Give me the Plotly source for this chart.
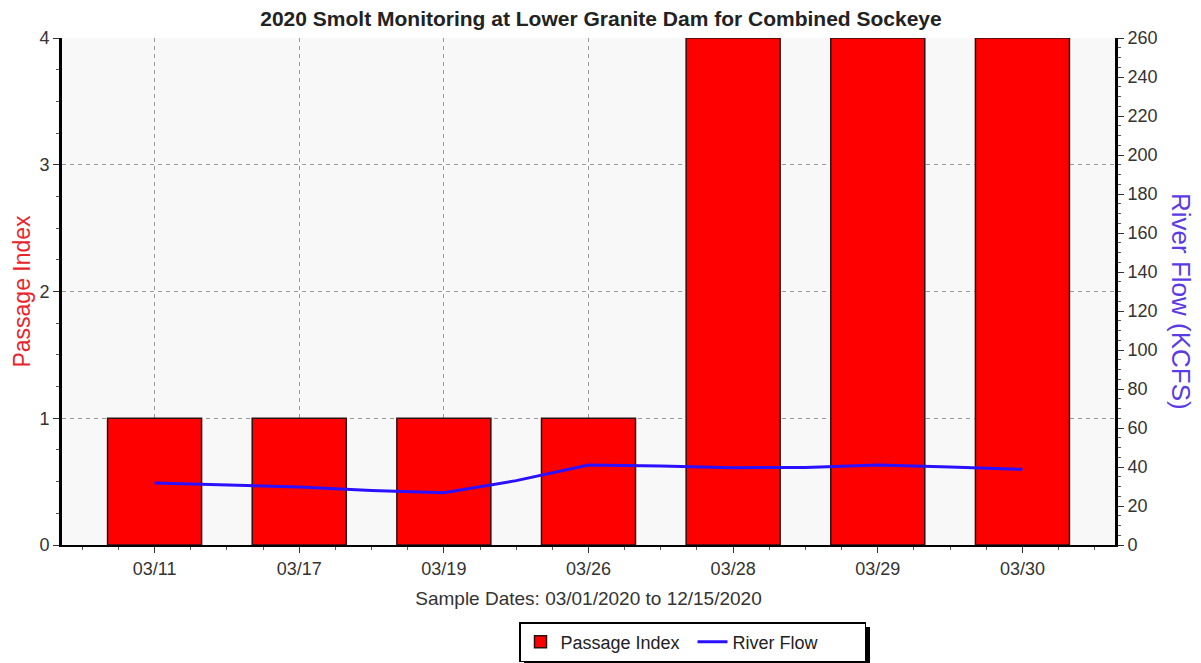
import plotly.graph_objects as go

# ---- data ----
categories = ["03/11", "03/17", "03/19", "03/26", "03/28", "03/29", "03/30"]
passage_index = [1, 1, 1, 1, 4, 4, 4]
# river flow sampled at category positions and midpoints (category index units)
flow_pos = [0, 0.5, 1, 1.5, 2, 2.5, 3, 3.5, 4, 4.5, 5, 5.5, 6]
river_flow = [31.8, 30.8, 29.8, 28.0, 26.8, 33.0, 41.0, 40.5, 39.6, 39.8, 41.0, 40.0, 38.8]

left_ticks = [0, 1, 2, 3, 4]
right_ticks = list(range(0, 261, 20))

# the page body has an 8px margin, so the figure starts at (8, 8) on screen
OFF = 8
W, H = 1201 - OFF, 663 - OFF
PLOT_L, PLOT_R, PLOT_T, PLOT_B = 62, 1115, 38, 545  # screen pixels
ML, MT = PLOT_L - OFF, PLOT_T - OFF
MR, MB = W - (PLOT_R - OFF), H - (PLOT_B - OFF)
PW, PH = W - ML - MR, H - MT - MB


def px_x(px):
    return (px - PLOT_L) / PW


def px_y(py):
    return (PLOT_B - py) / PH


FONT = "Liberation Sans, Arial, sans-serif"
GRID = "#9a9a9a"
idx = list(range(len(categories)))

fig = go.Figure()
fig.add_trace(go.Bar(
    x=idx, y=passage_index, name="Passage Index",
    width=0.65,
    marker=dict(color="#ff0000", line=dict(color="#2b1212", width=1.5)),
    yaxis="y",
))
fig.add_trace(go.Scatter(
    x=flow_pos, y=river_flow, name="River Flow", mode="lines",
    line=dict(color="#2a10ff", width=3),
    yaxis="y2",
))

fig.update_layout(
    width=W, height=H, autosize=False,
    margin=dict(l=ML, r=MR, t=MT, b=MB, autoexpand=False),
    paper_bgcolor="white", plot_bgcolor="#f8f8f8",
    font=dict(family=FONT, color="#333333"),
    title=dict(text="<b>2020 Smolt Monitoring at Lower Granite Dam for Combined Sockeye</b>",
               x=(601 - OFF) / W, xanchor="center",
               y=1 - 3 / H, yanchor="top", pad=dict(t=0),
               font=dict(size=21, color="#222222", family=FONT)),
    showlegend=True,
    legend=dict(orientation="h", x=px_x(519), xanchor="left",
                y=px_y(622), yanchor="top",
                bgcolor="white", bordercolor="black", borderwidth=1.5,
                entrywidth=127, entrywidthmode="pixels",
                font=dict(size=18, color="#222222", family=FONT),
                traceorder="normal"),
    xaxis=dict(
        automargin=False,
        range=[-0.64, 6.64], tickmode="array", tickvals=idx, ticktext=categories,
        showgrid=True, gridcolor=GRID, griddash="4px,4px", gridwidth=1,
        showline=True, linecolor="black", linewidth=2,
        ticks="outside", ticklen=6, tickcolor="#333333",
        tickfont=dict(size=18, color="#333333"),
        minor=dict(tick0=0, dtick=0.25, ticks="outside", ticklen=3, tickcolor="#555555", showgrid=False),
        zeroline=False,
        title=dict(text="Sample Dates: 03/01/2020 to 12/15/2020",
                   font=dict(size=19, color="#333333"), standoff=14),
    ),
    yaxis=dict(
        automargin=False,
        range=[0, 4], tickmode="array", tickvals=left_ticks,
        showgrid=True, gridcolor=GRID, griddash="4px,4px", gridwidth=1,
        showline=True, linecolor="black", linewidth=3,
        ticks="outside", ticklen=6, tickcolor="#333333",
        tickfont=dict(size=18, color="#333333"),
        minor=dict(tick0=0, dtick=0.25, ticks="outside", ticklen=3, tickcolor="#555555", showgrid=False),
        zeroline=False,
        title=dict(text="Passage Index", font=dict(size=23, color="#e8242c"), standoff=3),
    ),
    yaxis2=dict(
        automargin=False,
        range=[0, 260], tickmode="array", tickvals=right_ticks,
        overlaying="y", side="right", showgrid=False,
        showline=True, linecolor="black", linewidth=3,
        ticks="outside", ticklen=6, tickcolor="#333333",
        tickfont=dict(size=18, color="#333333"),
        minor=dict(tick0=0, dtick=5, ticks="outside", ticklen=3, tickcolor="#555555", showgrid=False),
        zeroline=False,
    ),
    annotations=[dict(
        text="River Flow (KCFS)", textangle=90, showarrow=False,
        xref="paper", yref="paper", x=px_x(1181), y=px_y(301),
        xanchor="center", yanchor="middle",
        font=dict(size=26, color="#5b3be6", family=FONT),
    )],
    shapes=[dict(
        type="rect", xref="paper", yref="paper", layer="above",
        x0=px_x(524), x1=px_x(870), y0=px_y(667), y1=px_y(627),
        fillcolor="black", line=dict(width=0),
    )],
)

fig.write_html("out.html")
